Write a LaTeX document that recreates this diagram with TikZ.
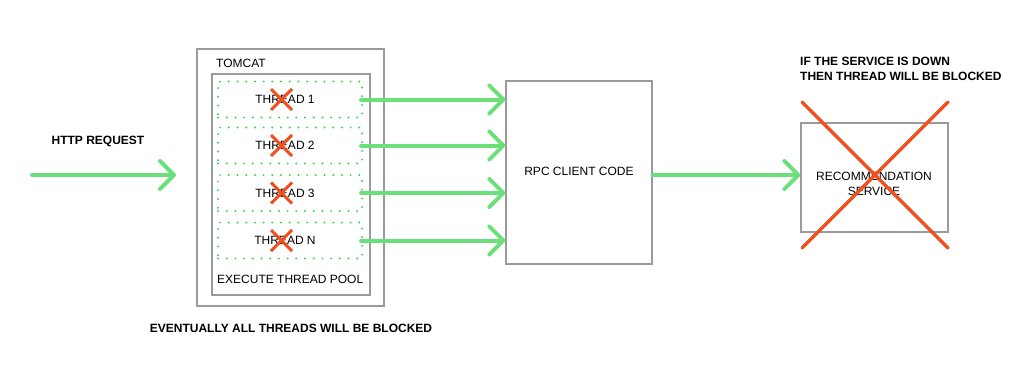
\documentclass[tikz,border=0pt]{standalone}
\usepackage{fontspec}
\setmainfont{Liberation Sans}
\usetikzlibrary{arrows.meta,calc}
\definecolor{gr}{HTML}{6BE07A}
\definecolor{dg}{HTML}{2EDC4A}
\definecolor{rd}{HTML}{F0501E}
\definecolor{bx}{HTML}{9A9A9A}
\tikzset{
  box/.style={draw=bx,line width=1.3pt,inner sep=0pt},
  thr/.style={draw=dg,line width=2.2pt,dash pattern=on 0pt off 8.7pt,line cap=round,minimum width=144pt,minimum height=36pt,inner sep=0pt},
  garrow/.style={draw=gr,line width=4pt,line cap=round,-{Straight Barb[length=14pt,width=28pt,line width=4pt,round]}},
  rx/.style={draw=rd,line width=3pt},
  bigx/.style={draw=rd,line width=3.5pt,line cap=round},
  lbl/.style={font=\fontsize{12}{14}\selectfont,inner sep=0pt},
  blbl/.style={font=\fontsize{12}{15}\selectfont\bfseries,inner sep=0pt}
}
\begin{document}
\begin{tikzpicture}[x=1pt,y=-1pt]
\useasboundingbox (0,0) rectangle (1024,383);
% HTTP request
\node[blbl] (httplbl) at (98,141) {HTTP REQUEST};
\coordinate (hs) at (32,175);
\coordinate (he) at (176,175);
\draw[garrow] (hs) -- (he);
% Tomcat
\node[box,minimum width=187pt,minimum height=257pt] (tomcat) at (290.5,177.5) {};
\node[lbl,anchor=west] (tomcatlbl) at (216,63) {TOMCAT};
\node[box,minimum width=158pt,minimum height=221pt] (pool) at (291,184.5) {};
\node[lbl,anchor=west] (poollbl) at (217,279) {EXECUTE THREAD POOL};
% threads
\foreach \i/\y/\t in {1/99.5/THREAD 1,2/145.5/THREAD 2,3/193/THREAD 3,4/240.5/THREAD N}{
  \node[thr] (t\i) at (290,\y) {};
  \node[lbl] (tl\i) at (285,\y) {\t};
  \draw[rx] ($(281.5,\y)+(-10.5,-10.5)$) -- ($(281.5,\y)+(10.5,10.5)$);
  \draw[rx] ($(281.5,\y)+(10.5,-10.5)$) -- ($(281.5,\y)+(-10.5,10.5)$);
}
% RPC
\node[box,minimum width=146pt,minimum height=183pt] (rpc) at (579,172.5) {};
\node[lbl] (rpclbl) at (579,171) {RPC CLIENT CODE};
\foreach \i in {1,2,3,4}{
  \draw[garrow] ([xshift=-2pt]t\i.east) -- (t\i.east -| rpc.west);
}
% Recommendation
\node[box,minimum width=147pt,minimum height=109pt] (rec) at (874.5,177.5) {};
\node[lbl,align=center,font=\fontsize{12}{15}\selectfont] (reclbl) at (874,183.5) {RECOMMENDATION\\SERVICE};
\draw[garrow] (rpc.east |- 0,175) -- (rec.west |- 0,175);
\coordinate (xa) at (802,102);
\coordinate (xb) at (948,248);
\coordinate (xc) at (948,102);
\coordinate (xd) at (802,248);
\draw[bigx] (xa) -- (xb);
\draw[bigx] (xc) -- (xd);
\node[blbl,anchor=west,align=left] (downlbl) at (800,68.5) {IF THE SERVICE IS DOWN\\THEN THREAD WILL BE BLOCKED};
% bottom
\node[blbl] (botlbl) at (291,328) {EVENTUALLY ALL THREADS WILL BE BLOCKED};
\end{tikzpicture}
\end{document}
